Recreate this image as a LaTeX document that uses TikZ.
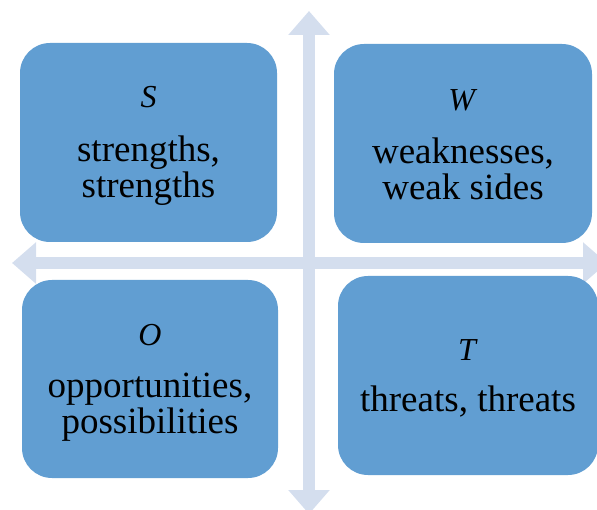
\documentclass[tikz,border=0pt]{standalone}
\usepackage{fontspec}
\setmainfont{Liberation Serif}
\usetikzlibrary{arrows.meta}
\definecolor{boxblue}{HTML}{619ED2}
\definecolor{axisblue}{HTML}{D4DEEE}
\newcommand\swotletter[2]{\rule{0pt}{#2}{\fontsize{32}{36}\selectfont\textit{#1}}}
\tikzset{
  swotbox/.style={fill=boxblue, draw=none, rounded corners=30pt, inner sep=0pt, outer sep=0pt,
    align=center, font=\fontsize{37}{36}\selectfont, text=black},
  axis/.style={draw=axisblue, line width=12pt,
    {Triangle[length=24pt,width=40pt]}-{Triangle[length=24pt,width=40pt]}}
}
\begin{document}
\begin{tikzpicture}[x=1pt,y=-1pt]
\useasboundingbox (0,0) rectangle (597,510);
\coordinate (top) at (309,11);
\coordinate (bottom) at (309,514);
\coordinate (left) at (12,263);
\coordinate (right) at (607,263);
\draw[axis] (top) -- (bottom);
\draw[axis] (left) -- (right);
\node[swotbox, minimum width=257pt, minimum height=199pt] (S) at (148.5,142.5)
  {\swotletter{S}{27pt}\\[18pt]strengths,\\strengths};
\node[swotbox, minimum width=258pt, minimum height=199pt] (W) at (463,143.5)
  {\swotletter{W}{23pt}\\[17pt]weaknesses,\\weak sides};
\node[swotbox, minimum width=256pt, minimum height=198pt] (O) at (150,379)
  {\swotletter{O}{28pt}\\[16pt]opportunities,\\possibilities};
\node[swotbox, minimum width=260pt, minimum height=199pt] (T) at (468,375.5)
  {\swotletter{T}{26.7pt}\\[15pt]threats, threats};
\end{tikzpicture}
\end{document}
